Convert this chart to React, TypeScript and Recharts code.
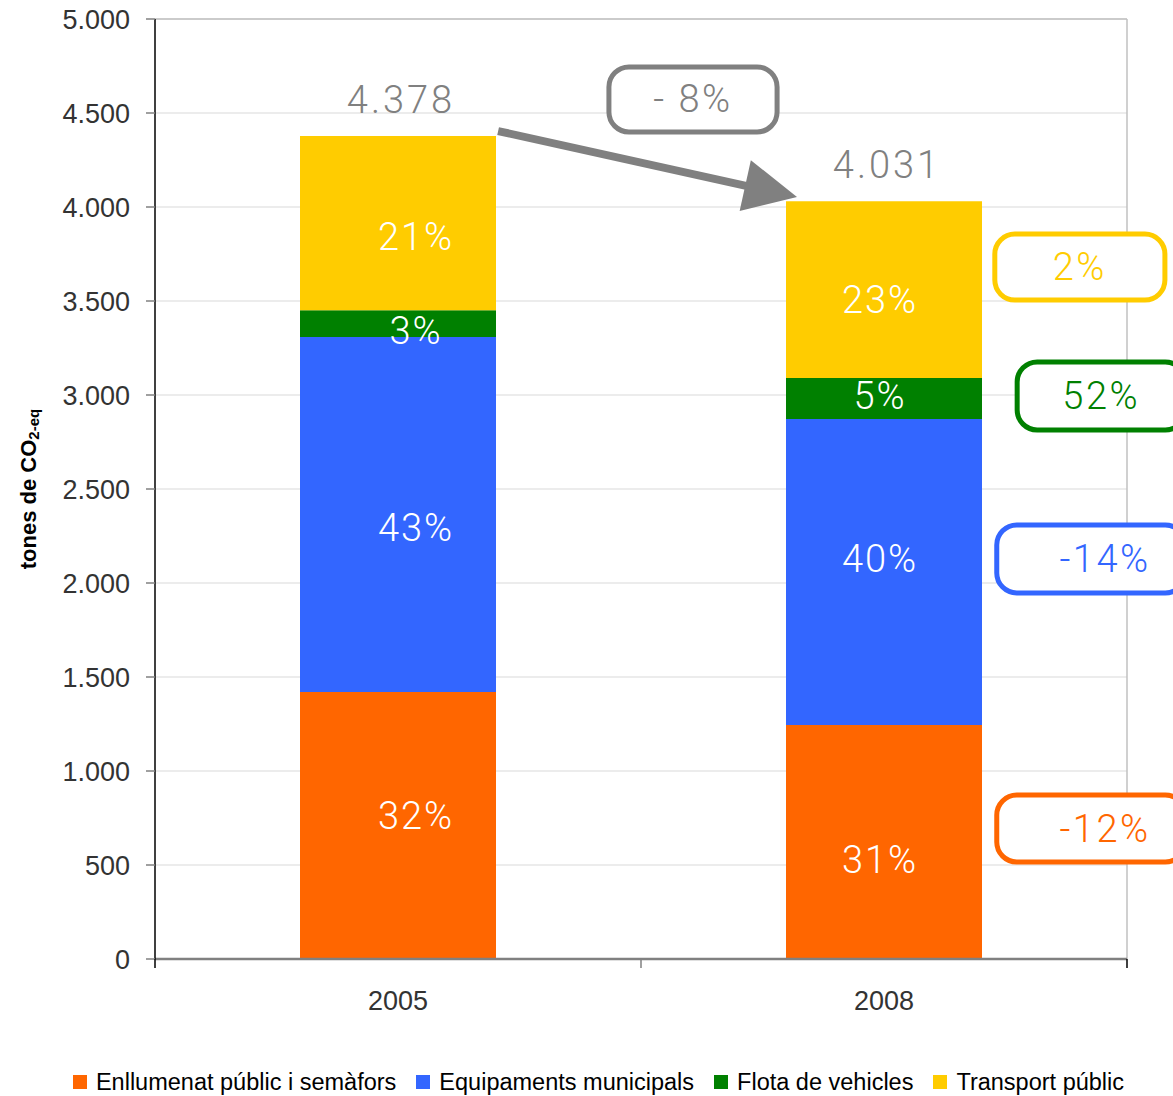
import React from 'react';
import {
  BarChart, Bar, XAxis, YAxis, CartesianGrid, Legend, LabelList,
  ReferenceLine, ReferenceArea,
} from 'recharts';

// tones de CO2-eq per sector
const categories = ['2005', '2008'];
const enllumenat = [1420, 1245];
const equipaments = [1888, 1627];
const flota = [143, 218];
const transport = [927, 941];
const yTicks = [0, 500, 1000, 1500, 2000, 2500, 3000, 3500, 4000, 4500, 5000];

const series = [
  { key: 'enllumenat', name: 'Enllumenat públic i semàfors', color: '#FF6600', values: enllumenat },
  { key: 'equipaments', name: 'Equipaments municipals', color: '#3366FF', values: equipaments },
  { key: 'flota', name: 'Flota de vehicles', color: '#008000', values: flota },
  { key: 'transport', name: 'Transport públic', color: '#FFCC00', values: transport },
];

// slot = category centre as a fraction of the plot width (feeds the helper number axis)
const data = categories.map((year, i) => {
  const row: any = { year, slot: (i + 0.5) / categories.length };
  series.forEach((s) => { row[s.key] = s.values[i]; });
  return row;
});
const totals = categories.map((_, i) => series.reduce((a, s) => a + s.values[i], 0));

const change = (v: number[]) => Math.round((v[1] / v[0] - 1) * 100);
const fmtChange = (n: number, spaced = false) => (n < 0 ? (spaced ? '- ' : '-') + Math.abs(n) : String(n)) + '%';
const fmtThousands = (v: number) => String(v).replace(/\B(?=(\d{3})+(?!\d))/g, '.');

const AXIS_FONT = '"Liberation Sans", Arial, sans-serif';
const LABEL_FONT = 'Roboto, "Open Sans", sans-serif';
const GREY = '#808080';

// hand-placed nudges of the share labels inside the bars (per year)
const labelDx = [18, -4];
const labelDy: Record<string, number[]> = {
  enllumenat: [-10, 18],
  equipaments: [13, -13],
  flota: [7, -3],
  transport: [14, 10],
};

const shareLabel = (key: string, values: number[]) => (props: any) => {
  const vb = props.viewBox || props;
  const i = props.index;
  const pct = Math.round((values[i] / totals[i]) * 100);
  return (
    <text
      x={vb.x + vb.width / 2 + labelDx[i]} y={vb.y + vb.height / 2 + labelDy[key][i]}
      textAnchor="middle" dominantBaseline="central"
      fill="#fff" fontSize={38} fontWeight={300} letterSpacing={2}
      fontFamily={LABEL_FONT}
    >{pct}%</text>
  );
};

const totalLabel = (props: any) => {
  const vb = props.viewBox || props;
  const i = props.index;
  const top = Math.min(vb.y, vb.y + vb.height);
  return (
    <text
      x={vb.x + vb.width / 2 + 3} y={top - 36}
      textAnchor="middle" dominantBaseline="central"
      fill={GREY} fontSize={38} fontWeight={300} letterSpacing={3}
      fontFamily={LABEL_FONT}
    >{fmtThousands(totals[i])}</text>
  );
};

const XTick = (props: any) => {
  const { x, y, payload, index } = props;
  const half = payload?.offset ?? 243;
  return (
    <g>
      <line x1={x - half} x2={x - half} y1={y} y2={y + 9} stroke={index === 0 ? '#000' : GREY} strokeWidth={1.5} />
      {index === categories.length - 1 && (
        <line x1={x + half} x2={x + half} y1={y} y2={y + 9} stroke="#000" strokeWidth={1.5} />
      )}
      <text x={x} y={y + 51} textAnchor="middle" fill="#333" fontSize={27} fontFamily={AXIS_FONT}>
        {payload.value}
      </text>
    </g>
  );
};

const YLabel = (props: any) => {
  const vb = props.viewBox || { x: 0, y: 19, width: 155, height: 940 };
  const cx = vb.x + 36;
  const cy = vb.y + vb.height / 2;
  return (
    <text
      x={cx} y={cy} transform={`rotate(-90, ${cx}, ${cy})`}
      textAnchor="middle" fontSize={22} fontWeight="bold" fill="#000" fontFamily={AXIS_FONT}
    >
      tones de CO<tspan fontSize={15} dy={3}>2-eq</tspan>
    </text>
  );
};

const Arrow = (props: any) => {
  const { x1, y1, x2, y2 } = props;
  const dx = x2 - x1;
  const dy = y2 - y1;
  const len = Math.sqrt(dx * dx + dy * dy) || 1;
  const ux = dx / len;
  const uy = dy / len;
  const headLen = 53;
  const headHalf = 26;
  const bx = x2 - ux * headLen;
  const by = y2 - uy * headLen;
  return (
    <g>
      <line x1={x1} y1={y1} x2={bx + ux * 2} y2={by + uy * 2} stroke={GREY} strokeWidth={8} />
      <polygon
        points={`${x2},${y2} ${bx - uy * headHalf},${by + ux * headHalf} ${bx + uy * headHalf},${by - ux * headHalf}`}
        fill={GREY}
      />
    </g>
  );
};

const boxShape = (text: string, color: string, textDx = 0) => (props: any) => {
  const { x, y, width, height } = props;
  return (
    <g>
      <rect x={x} y={y} width={width} height={height} rx={20} ry={20} fill="#fff" stroke={color} strokeWidth={5} />
      <text
        x={x + width / 2 + textDx} y={y + height / 2}
        textAnchor="middle" dominantBaseline="central"
        fill={color} fontSize={38} fontWeight={300} letterSpacing={2.5} fontFamily={LABEL_FONT}
      >{text}</text>
    </g>
  );
};

const LegendContent = () => (
  <div style={{
    display: 'flex', justifyContent: 'center', alignItems: 'center',
    height: 40, paddingLeft: 44, paddingTop: 12, boxSizing: 'border-box',
    fontFamily: AXIS_FONT, fontSize: 23.5, color: '#000', whiteSpace: 'nowrap',
  }}>
    {series.map((s) => (
      <div key={s.key} style={{ display: 'flex', alignItems: 'center', marginRight: 20 }}>
        <span style={{ width: 14, height: 14, background: s.color, display: 'inline-block', marginRight: 9 }} />
        <span>{s.name}</span>
      </div>
    ))}
  </div>
);

export default function App() {
  const totalChange = Math.round((totals[1] / totals[0] - 1) * 100);
  return (
    <div style={{ position: 'absolute', left: 0, top: 0, width: 1173, height: 1096, background: '#fff' }}>
      <BarChart
        width={1173} height={1096} data={data}
        margin={{ top: 19, right: 46, left: 0, bottom: 0 }}
      >
        <CartesianGrid horizontal vertical={false} stroke="#D9D9D9" strokeWidth={1.2} />
        {/* plot frame: top and right edges */}
        <CartesianGrid
          stroke="#C0C0C0" strokeWidth={1.5}
          horizontalCoordinatesGenerator={({ offset }: any) => [offset.top]}
          verticalCoordinatesGenerator={({ offset }: any) => [offset.left + offset.width]}
        />
        <XAxis
          dataKey="year"
          height={97}
          tickSize={0}
          tickMargin={0}
          tickLine={false}
          axisLine={{ stroke: GREY, strokeWidth: 2.5 }}
          tick={<XTick />}
        />
        <XAxis xAxisId="num" dataKey="slot" type="number" domain={[0, 1]} allowDataOverflow hide />
        <YAxis
          domain={[0, 5000]}
          ticks={yTicks}
          interval={0}
          width={155}
          tickSize={9}
          tickMargin={16}
          tickFormatter={fmtThousands}
          tick={{ fill: '#333', fontSize: 27, fontFamily: AXIS_FONT }}
          tickLine={{ stroke: GREY, strokeWidth: 1.5 }}
          axisLine={{ stroke: '#000', strokeWidth: 1.5 }}
          label={<YLabel />}
        />
        <Legend verticalAlign="bottom" content={<LegendContent />} wrapperStyle={{ left: 0, width: 1173 }} />

        {series.map((s, si) => (
          <Bar key={s.key} dataKey={s.key} name={s.name} stackId="a" fill={s.color} barSize={196} isAnimationActive={false}>
            <LabelList dataKey={s.key} content={shareLabel(s.key, s.values)} />
            {si === series.length - 1 && <LabelList dataKey={s.key} content={totalLabel} />}
          </Bar>
        ))}

        <ReferenceLine
          xAxisId="num"
          segment={[{ x: 0.353, y: 4404 }, { x: 0.6605, y: 4053 }]}
          ifOverflow="visible"
          shape={(p: any) => <Arrow {...p} />}
        />
        <ReferenceArea xAxisId="num" x1={0.467} x2={0.64} y1={4399} y2={4745} ifOverflow="visible"
          shape={boxShape(fmtChange(totalChange, true), GREY)} />
        <ReferenceArea xAxisId="num" x1={0.864} x2={1.039} y1={3505} y2={3856} ifOverflow="visible"
          shape={boxShape(fmtChange(change(transport)), '#FFCC00')} />
        <ReferenceArea xAxisId="num" x1={0.887} x2={1.06} y1={2814} y2={3176} ifOverflow="visible"
          shape={boxShape(fmtChange(change(flota)), '#008000', 0)} />
        <ReferenceArea xAxisId="num" x1={0.866} x2={1.06} y1={1947} y2={2309} ifOverflow="visible"
          shape={boxShape(fmtChange(change(equipaments)), '#3366FF', 14)} />
        <ReferenceArea xAxisId="num" x1={0.866} x2={1.06} y1={516} y2={872} ifOverflow="visible"
          shape={boxShape(fmtChange(change(enllumenat)), '#FF6600', 14)} />
      </BarChart>
    </div>
  );
}
